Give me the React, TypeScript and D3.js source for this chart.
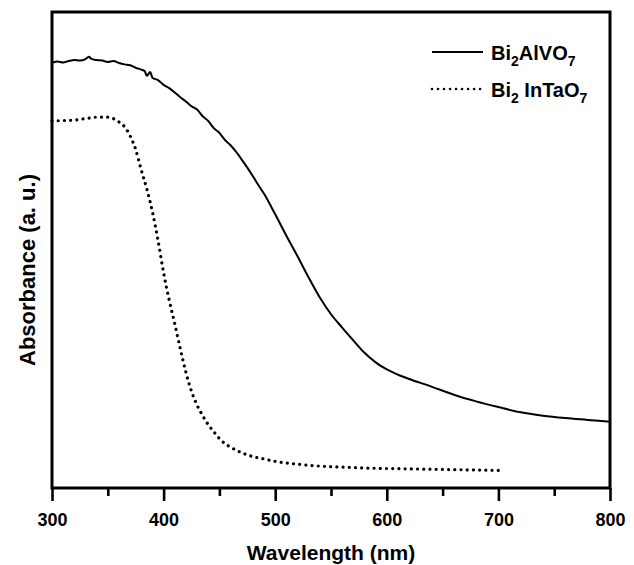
import React, { useEffect, useRef } from 'react';
import * as d3 from 'd3';

// Bi2AlVO7 absorbance (a. u.)
const alvoWavelength = [
  300, 305, 310, 315, 320, 325, 330, 333, 335, 340, 345, 350, 355, 360, 365, 370, 375, 380, 383, 385,
  388, 390, 395, 400, 405, 410, 415, 420, 425, 430, 435, 440, 445, 450, 455, 460, 465, 470, 475, 480,
  485, 490, 500, 510, 520, 530, 540, 550, 560, 570, 580, 590, 600, 610, 620, 640, 660, 680, 700, 720,
  740, 760, 780, 800,
];
const alvoAbs = [
  0.893, 0.896, 0.894, 0.897, 0.899, 0.898, 0.901, 0.906, 0.902, 0.899, 0.898, 0.895, 0.897, 0.893, 0.89, 0.888, 0.883, 0.879, 0.876, 0.866,
  0.874, 0.862, 0.857, 0.847, 0.84, 0.831, 0.821, 0.812, 0.802, 0.795, 0.781, 0.771, 0.756, 0.746, 0.731, 0.72, 0.706, 0.69, 0.673, 0.655,
  0.636, 0.618, 0.575, 0.53, 0.487, 0.442, 0.4, 0.365, 0.337, 0.31, 0.284, 0.264, 0.249, 0.238, 0.229, 0.213, 0.196, 0.182, 0.17, 0.159,
  0.152, 0.147, 0.143, 0.139,
];

// Bi2InTaO7 absorbance (a. u.)
const intaWavelength = [
  300, 310, 320, 330, 340, 345, 350, 355, 360, 365, 370, 375, 380, 385, 390, 395, 400, 405, 410, 415,
  420, 425, 430, 435, 440, 445, 450, 455, 460, 470, 480, 490, 500, 520, 540, 560, 580, 600, 625, 650,
  675, 700,
];
const intaAbs = [
  0.771, 0.772, 0.773, 0.776, 0.779, 0.779, 0.779, 0.776, 0.769, 0.759, 0.74, 0.711, 0.668, 0.628, 0.58, 0.52, 0.452, 0.395, 0.345, 0.292,
  0.243, 0.203, 0.174, 0.152, 0.133, 0.118, 0.104, 0.093, 0.086, 0.074, 0.066, 0.061, 0.056, 0.05, 0.046, 0.044, 0.042, 0.041, 0.04, 0.039,
  0.038, 0.037,
];

const majorTicks = [300, 400, 500, 600, 700, 800];
const minorTicks = [350, 450, 550, 650, 750];

const FONT = 'Arial, "Liberation Sans", Helvetica, sans-serif';

const App = () => {
  const svgRef = useRef<SVGSVGElement>(null);
  const width = 634;
  const height = 565;

  useEffect(() => {
    const svg = d3.select(svgRef.current);
    svg.selectAll('*').remove();

    const margin = { top: 12, right: 24, bottom: 77, left: 52 };
    const w = width - margin.left - margin.right;
    const h = height - margin.top - margin.bottom;

    const g = svg.append('g').attr('transform', `translate(${margin.left},${margin.top})`);

    const x = d3.scaleLinear().domain([300, 800]).range([0, w]);
    const y = d3.scaleLinear().domain([0, 1]).range([h, 0]);

    const alvo = alvoWavelength.map((wl, i) => ({ wl, v: alvoAbs[i] }));
    const inta = intaWavelength.map((wl, i) => ({ wl, v: intaAbs[i] }));

    // ticks
    const major = g.append('g')
      .attr('transform', `translate(0,${h})`)
      .call(d3.axisBottom(x).tickValues(majorTicks).tickSize(13).tickPadding(12).tickFormat(d3.format('d')));
    major.select('.domain').remove();
    major.selectAll('line').attr('stroke', '#000').attr('stroke-width', 2.6);
    major.selectAll('text')
      .attr('fill', '#000')
      .style('font-family', FONT)
      .style('font-weight', 'bold')
      .style('font-size', '18px');

    const minor = g.append('g')
      .attr('transform', `translate(0,${h})`)
      .call(d3.axisBottom(x).tickValues(minorTicks).tickSize(8).tickFormat(() => ''));
    minor.select('.domain').remove();
    minor.selectAll('line').attr('stroke', '#000').attr('stroke-width', 2.6);

    // curves
    const line = d3.line<{ wl: number; v: number }>()
      .x(d => x(d.wl))
      .y(d => y(d.v))
      .curve(d3.curveMonotoneX);

    g.append('path')
      .datum(alvo)
      .attr('fill', 'none')
      .attr('stroke', '#000')
      .attr('stroke-width', 2)
      .attr('stroke-linejoin', 'round')
      .attr('d', line);

    g.append('path')
      .datum(inta)
      .attr('fill', 'none')
      .attr('stroke', '#000')
      .attr('stroke-width', 3.2)
      .attr('stroke-linecap', 'round')
      .attr('stroke-dasharray', '0.01 6.2')
      .attr('d', line);

    // frame
    g.append('rect')
      .attr('width', w)
      .attr('height', h)
      .attr('fill', 'none')
      .attr('stroke', '#000')
      .attr('stroke-width', 3);

    // legend
    const legend = [
      { main: 'AlVO', gap: '', y: 40, dash: null as string | null },
      { main: 'InTaO', gap: ' ', y: 77, dash: '0.01 6' },
    ];
    legend.forEach(item => {
      g.append('line')
        .attr('x1', 380).attr('x2', 431)
        .attr('y1', item.y).attr('y2', item.y)
        .attr('stroke', '#000')
        .attr('stroke-width', item.dash ? 2.6 : 2)
        .attr('stroke-linecap', item.dash ? 'round' : 'butt')
        .attr('stroke-dasharray', item.dash);
      const t = g.append('text')
        .attr('x', 439)
        .attr('y', item.y + 8)
        .attr('fill', '#000')
        .style('font-family', FONT)
        .style('font-weight', 'bold')
        .style('font-size', '20px');
      t.append('tspan').text('Bi');
      t.append('tspan').attr('dy', 6).style('font-size', '14px').text('2');
      t.append('tspan').attr('dy', -6).text(item.gap + item.main);
      t.append('tspan').attr('dy', 6).style('font-size', '14px').text('7');
    });

    // axis titles
    svg.append('text')
      .attr('x', margin.left + w / 2)
      .attr('y', 560)
      .attr('text-anchor', 'middle')
      .attr('fill', '#000')
      .style('font-family', FONT)
      .style('font-weight', 'bold')
      .style('font-size', '21px')
      .text('Wavelength (nm)');

    svg.append('text')
      .attr('transform', `translate(35,${margin.top + h / 2 + 20}) rotate(-90)`)
      .attr('text-anchor', 'middle')
      .attr('fill', '#000')
      .style('font-family', FONT)
      .style('font-weight', 'bold')
      .style('font-size', '22px')
      .text('Absorbance (a. u.)');
  }, []);

  return (
    <svg
      ref={svgRef}
      width={width}
      height={height}
      style={{ position: 'absolute', left: 0, top: 0, background: '#fff' }}
    ></svg>
  );
};

export default App;
